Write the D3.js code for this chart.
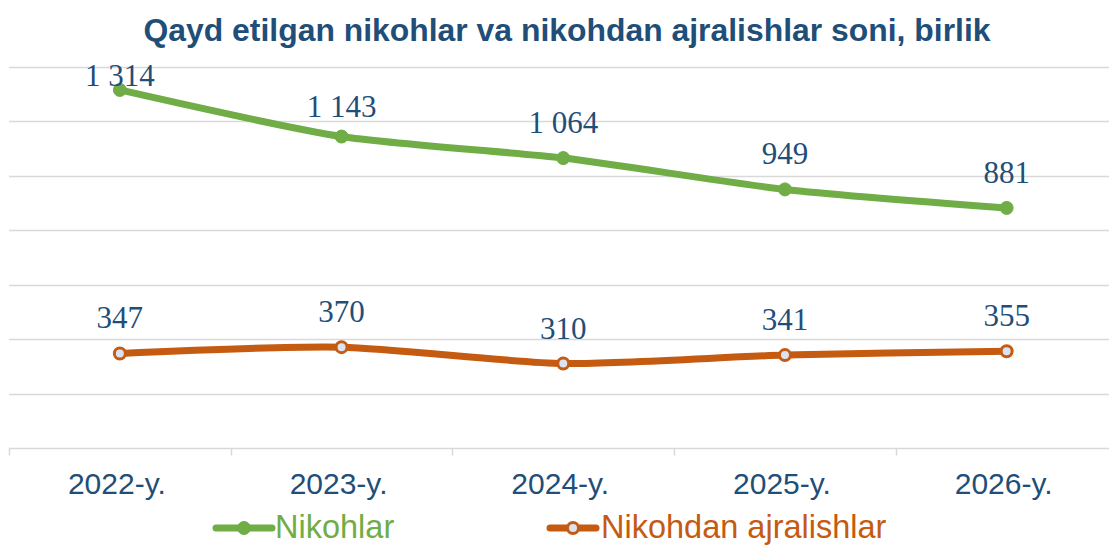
<!DOCTYPE html>
<html>
<head>
<meta charset="utf-8">
<script src="https://cdn.jsdelivr.net/npm/d3@7"></script>
<style>
  body { margin: 0; background: #fff; }
  svg { display: block; }
</style>
</head>
<body>
<svg id="chart" width="1109" height="545"></svg>
<script>
let years = ['2022-y.', '2023-y.', '2024-y.', '2025-y.', '2026-y.'];
let marriages = [1314, 1143, 1064, 949, 881];
let divorces = [347, 370, 310, 341, 355];
let gridTicks = [0, 200, 400, 600, 800, 1000, 1200, 1400];
let seriesNames = ['Nikohlar', 'Nikohdan ajralishlar'];

let svg = d3.select('#chart');
let textColor = '#1f4e79';
let green = '#70ad47';
let orange = '#c55a11';

let sx = d3.scaleBand()
  .domain(years)
  .range([9, 1117.5]);

let sy = d3.scaleLinear()
  .domain([0, 1400])
  .range([448, 66.5]);

let fmt = v => d3.format(',')(v).replace(',', ' ');

// title
svg.append('text')
  .attr('x', 567)
  .attr('y', 41)
  .attr('text-anchor', 'middle')
  .attr('font-family', 'Liberation Sans, Arial, sans-serif')
  .attr('font-weight', 'bold')
  .attr('font-size', 31)
  .attr('textLength', 847)
  .attr('lengthAdjust', 'spacingAndGlyphs')
  .attr('fill', textColor)
  .text('Qayd etilgan nikohlar va nikohdan ajralishlar soni, birlik');

// gridlines
svg.selectAll('.grid')
  .data(gridTicks.slice(1))
  .enter()
  .append('line')
  .attr('class', 'grid')
  .attr('x1', 9)
  .attr('x2', 1109)
  .attr('y1', d => Math.round(sy(d)) + 0.5)
  .attr('y2', d => Math.round(sy(d)) + 0.5)
  .attr('stroke', '#d9d9d9')
  .attr('stroke-width', 1.5);

// x axis
let xAxis = svg.append('g')
  .attr('transform', 'translate(0,' + (Math.round(sy(0)) + 0.5) + ')');
xAxis.append('line')
  .attr('x1', 9).attr('x2', 1109)
  .attr('stroke', '#d9d9d9').attr('stroke-width', 1.5);
xAxis.selectAll('.tick')
  .data(years)
  .enter()
  .append('line')
  .attr('class', 'tick')
  .attr('x1', d => Math.round(sx(d)) + 0.5)
  .attr('x2', d => Math.round(sx(d)) + 0.5)
  .attr('y1', 0).attr('y2', 7)
  .attr('stroke', '#d9d9d9').attr('stroke-width', 1.5);
xAxis.selectAll('.lbl')
  .data(years)
  .enter()
  .append('text')
  .attr('class', 'lbl')
  .attr('x', d => sx(d) + sx.bandwidth() / 2 - 3)
  .attr('y', 45)
  .attr('text-anchor', 'middle')
  .attr('font-family', 'Liberation Sans, Arial, sans-serif')
  .attr('font-size', 30)
  .attr('fill', textColor)
  .text(d => d);

let cx = (_, i) => sx(years[i]) + sx.bandwidth() / 2;
let line = d3.line()
  .x(cx)
  .y(d => sy(d))
  .curve(d3.curveCardinal.tension(0.3));

function drawSeries(values, color, hollow, labelOffsets){
  svg.append('path')
    .datum(values)
    .attr('d', line)
    .attr('fill', 'none')
    .attr('stroke', color)
    .attr('stroke-width', 7)
    .attr('stroke-linecap', 'round')
    .attr('stroke-linejoin', 'round');

  svg.append('g').selectAll('circle')
    .data(values)
    .enter()
    .append('circle')
    .attr('cx', cx)
    .attr('cy', d => sy(d))
    .attr('r', hollow ? 5.5 : 6.5)
    .attr('fill', hollow ? '#dae3f3' : color)
    .attr('stroke', color)
    .attr('stroke-width', hollow ? 3 : 1);

  svg.append('g').selectAll('text')
    .data(values)
    .enter()
    .append('text')
    .attr('x', cx)
    .attr('y', (d, i) => sy(d) - labelOffsets[i])
    .attr('text-anchor', 'middle')
    .attr('font-family', 'Liberation Serif, Times New Roman, serif')
    .attr('font-size', 31)
    .attr('fill', textColor)
    .text(d => fmt(d));
}

drawSeries(marriages, green, false, [4, 20, 25, 25, 25]);
drawSeries(divorces, orange, true, [25, 25, 25, 25, 25]);

// legend
let legend = [
  {name: seriesNames[0], color: green, hollow: false, x: 216},
  {name: seriesNames[1], color: orange, hollow: true, x: 550}
];
let lg = svg.append('g').selectAll('g')
  .data(legend)
  .enter()
  .append('g')
  .attr('transform', d => 'translate(' + d.x + ',528)');
lg.append('line')
  .attr('x1', 0).attr('x2', d => d.hollow ? 46 : 56)
  .attr('stroke', d => d.color)
  .attr('stroke-width', 7)
  .attr('stroke-linecap', 'round');
lg.append('circle')
  .attr('cx', d => d.hollow ? 23 : 28)
  .attr('r', d => d.hollow ? 5.5 : 6.5)
  .attr('fill', d => d.hollow ? '#dae3f3' : d.color)
  .attr('stroke', d => d.color)
  .attr('stroke-width', d => d.hollow ? 3 : 1);
lg.append('text')
  .attr('x', d => d.hollow ? 51 : 59)
  .attr('y', 10)
  .attr('font-family', 'Liberation Sans, Arial, sans-serif')
  .attr('font-size', 32.5)
  .attr('fill', d => d.color)
  .text(d => d.name);
</script>
</body>
</html>
